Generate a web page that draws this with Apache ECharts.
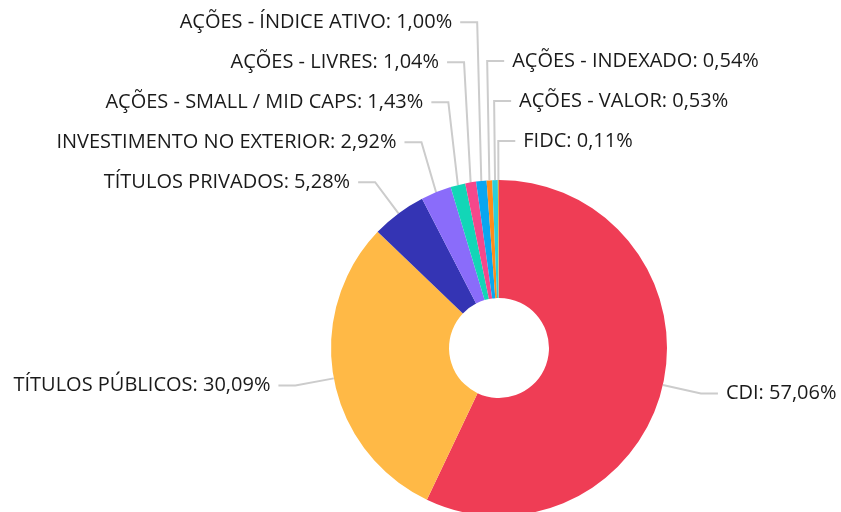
<!DOCTYPE html>
<html>
<head>
<meta charset="utf-8">
<script src="https://cdn.jsdelivr.net/npm/echarts@6/dist/echarts.min.js"></script>
<style>
  html, body { margin: 0; padding: 0; background: #fff; }
  #main { width: 841px; height: 512px; }
</style>
</head>
<body>
<div id="main"></div>
<script>
const categories = [
  "CDI",
  "TÍTULOS PÚBLICOS",
  "TÍTULOS PRIVADOS",
  "INVESTIMENTO NO EXTERIOR",
  "AÇÕES - SMALL / MID CAPS",
  "AÇÕES - LIVRES",
  "AÇÕES - ÍNDICE ATIVO",
  "AÇÕES - INDEXADO",
  "AÇÕES - VALOR",
  "FIDC"
];
const values = [57.06, 30.09, 5.28, 2.92, 1.43, 1.04, 1.00, 0.54, 0.53, 0.11];
const colors = ["#ef3d55", "#ffb946", "#3434b4", "#8a6cfa", "#12d6b7", "#f5478b", "#0aa6f0", "#ff8c1a", "#2acfdb", "#e2a83a"];

const myChart = echarts.init(document.getElementById("main"));

// pie geometry
const cx = 499, cy = 348, R = 168;
const len1 = 39, len2 = 17, textGap = 8, rowGap = 40;

// work out label anchors: first leg radial, then stack labels that would collide
const total = values.reduce((a, b) => a + b, 0);
let acc = 0;
const anchors = values.map((v, i) => {
  const mid = (acc + v / 2) / total * Math.PI * 2;
  acc += v;
  const dx = Math.sin(mid), dy = -Math.cos(mid);
  const ex = cx + R * dx, ey = cy + R * dy;
  // slices hugging the top go to the right
  const nearTop = Math.PI * 2 - mid < (5 * Math.PI) / 180;
  return {
    i: i,
    ex: ex,
    ey: ey,
    px: ex + len1 * dx,
    py: ey + len1 * dy,
    side: dx > 0 || nearTop ? 1 : -1
  };
});
[1, -1].forEach(side => {
  const list = anchors.filter(a => a.side === side).sort((a, b) => b.px * side - a.px * side);
  let prev = Infinity;
  list.forEach(a => {
    a.y = Math.min(a.py, prev - rowGap);
    prev = a.y;
  });
});

const option = {
  color: colors,
  animation: false,
  series: [
    {
      type: "pie",
      center: [cx, cy],
      radius: [50, R],
      startAngle: 90,
      clockwise: true,
      data: categories.map((name, i) => ({ name: name, value: values[i] })),
      label: {
        show: true,
        fontFamily: "Open Sans",
        fontSize: 20,
        color: "#1a1a1a",
        overflow: "none",
        formatter: p => p.name + ": " + p.value.toFixed(2).replace(".", ",") + "%"
      },
      labelLine: {
        show: true,
        length: len1,
        length2: len2,
        lineStyle: { color: "#cccccc", width: 2 }
      },
      labelLayout: params => {
        const a = anchors[params.dataIndex];
        const endX = a.px + a.side * len2;
        return {
          x: endX + a.side * textGap,
          y: a.y,
          width: 400,
          align: a.side > 0 ? "left" : "right",
          verticalAlign: "middle",
          labelLinePoints: [[a.ex, a.ey], [a.px, a.y], [endX, a.y]]
        };
      },
      itemStyle: { borderWidth: 0 }
    }
  ]
};

myChart.setOption(option);
</script>
</body>
</html>
